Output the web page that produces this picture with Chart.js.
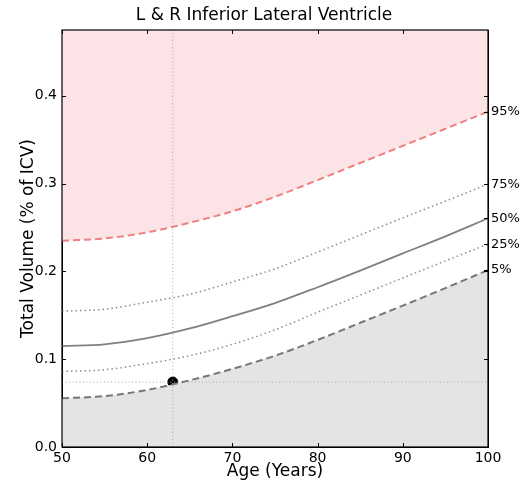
<!DOCTYPE html>
<html>
<head>
<meta charset="utf-8">
<script src="https://cdn.jsdelivr.net/npm/chart.js@4/dist/chart.umd.min.js"></script>
<style>
  html, body { margin: 0; padding: 0; background: #fff; }
  #wrap { width: 528px; height: 482px; }
</style>
</head>
<body>
<div id="wrap"><canvas id="myChart" width="528" height="482"></canvas></div>
<script>
// data
var ages = [50, 55, 60, 65, 70, 75, 80, 85, 90, 95, 100];
var p5  = [0.0555, 0.058, 0.065, 0.076, 0.089, 0.104, 0.122, 0.1415, 0.161, 0.181, 0.2015];
var p25 = [0.086, 0.088, 0.095, 0.104, 0.117, 0.1335, 0.1535, 0.173, 0.1925, 0.212, 0.231];
var p50 = [0.115, 0.117, 0.124, 0.135, 0.149, 0.164, 0.182, 0.201, 0.2205, 0.240, 0.2605];
var p75 = [0.1547, 0.157, 0.165, 0.174, 0.188, 0.203, 0.222, 0.2415, 0.261, 0.280, 0.2994];
var p95 = [0.235, 0.2375, 0.2445, 0.2555, 0.2685, 0.285, 0.304, 0.3235, 0.343, 0.3625, 0.382];
var pctLabels = ['95%', '75%', '50%', '25%', '5%'];
var yTicks = [0.0, 0.1, 0.2, 0.3, 0.4];
var xTicks = [50, 60, 70, 80, 90, 100];
var subjectAge = 63;
var subjectVol = 0.074;
var yMax = 0.475;

function pts(arr){
    return ages.map(function(a, i){ return {x: a, y: arr[i]}; });
}

var endValues = [p95, p75, p50, p25, p5].map(function(a){ return a[a.length - 1]; });

//inward ticks + top border, matplotlib style
var frame = {
    id: 'frame',
    afterDatasetsDraw: function(chart){
        var ctx = chart.ctx, a = chart.chartArea;
        var xs = chart.scales.x, ys = chart.scales.y;
        ctx.save();
        ctx.strokeStyle = '#000';
        ctx.lineWidth = 1;
        ctx.beginPath();
        xTicks.forEach(function(v){
            var px = Math.round(xs.getPixelForValue(v)) + 0.5;
            ctx.moveTo(px, a.bottom); ctx.lineTo(px, a.bottom - 4);
            ctx.moveTo(px, a.top); ctx.lineTo(px, a.top + 4);
        });
        yTicks.forEach(function(v){
            var py = Math.round(ys.getPixelForValue(v)) + 0.5;
            ctx.moveTo(a.left, py); ctx.lineTo(a.left + 4, py);
            ctx.moveTo(a.right, py); ctx.lineTo(a.right - 4, py);
        });
        endValues.forEach(function(v){
            var py = Math.round(ys.getPixelForValue(v)) + 0.5;
            ctx.moveTo(a.right, py); ctx.lineTo(a.right - 4, py);
        });
        ctx.stroke();
        ctx.lineWidth = 1.2;
        ctx.strokeRect(a.left, a.top, a.right - a.left, a.bottom - a.top);
        ctx.restore();
    }
};

Chart.defaults.font.family = 'DejaVu Sans';
Chart.defaults.color = '#000';

var main = {};
main.ctx = document.getElementById('myChart');
main.chart = new Chart(main.ctx, {
    type: 'line',
    data: {
        datasets: [
            {data: [{x: subjectAge, y: 0}, {x: subjectAge, y: yMax}], borderColor: '#a8a8a8', borderWidth: 1, borderDash: [1, 2.5], pointRadius: 0, fill: false},
            {data: [{x: 50, y: subjectVol}, {x: 100, y: subjectVol}], borderColor: '#a8a8a8', borderWidth: 1, borderDash: [1, 2.5], pointRadius: 0, fill: false},
            {label: '95%', data: pts(p95), borderColor: '#f08080', borderWidth: 2, borderDash: [7, 4], pointRadius: 0, fill: 'end', backgroundColor: '#fce4e6', cubicInterpolationMode: 'monotone'},
            {label: '75%', data: pts(p75), borderColor: '#8c8c8c', borderWidth: 1.5, borderDash: [1.5, 3], pointRadius: 0, fill: false, cubicInterpolationMode: 'monotone'},
            {label: '50%', data: pts(p50), borderColor: '#808080', borderWidth: 1.8, pointRadius: 0, fill: false, cubicInterpolationMode: 'monotone'},
            {label: '25%', data: pts(p25), borderColor: '#8c8c8c', borderWidth: 1.5, borderDash: [1.5, 3], pointRadius: 0, fill: false, cubicInterpolationMode: 'monotone'},
            {label: '5%', data: pts(p5), borderColor: '#777777', borderWidth: 2, borderDash: [7, 4], pointRadius: 0, fill: 'origin', backgroundColor: '#e4e4e4', cubicInterpolationMode: 'monotone'},
            {type: 'scatter', data: [{x: subjectAge, y: subjectVol}], backgroundColor: '#000', borderColor: '#000', pointRadius: 5}
        ]
    },
    options: {
        responsive: false,
        animation: false,
        events: [],
        layout: {padding: 0},
        plugins: {
            legend: {display: false},
            tooltip: {enabled: false},
            title: {display: true, text: 'L & R Inferior Lateral Ventricle', font: {size: 17, weight: 'normal'}, color: '#000', padding: {top: 5, bottom: 4.6}}
        },
        scales: {
            x: {
                type: 'linear', min: 50, max: 100,
                afterBuildTicks: function(s){ s.ticks = xTicks.map(function(v){ return {value: v}; }); },
                ticks: {font: {size: 14}, padding: 3, maxRotation: 0},
                grid: {display: false, drawTicks: false},
                border: {color: '#000'},
                title: {display: true, text: 'Age (Years)', font: {size: 17}, padding: {top: 0, bottom: 0}},
                afterFit: function(s){ s.height = 35; }
            },
            y: {
                min: 0, max: yMax,
                afterBuildTicks: function(s){ s.ticks = yTicks.map(function(v){ return {value: v}; }); },
                ticks: {font: {size: 14}, padding: 5, callback: function(v){ return v.toFixed(1); }},
                grid: {display: false, drawTicks: false},
                border: {color: '#000'},
                title: {display: true, text: 'Total Volume (% of ICV)', font: {size: 17}, padding: {top: 18, bottom: 0}},
                afterFit: function(s){ s.width = 62; }
            },
            y2: {
                position: 'right', min: 0, max: yMax,
                afterBuildTicks: function(s){ s.ticks = endValues.map(function(v){ return {value: v}; }); },
                ticks: {font: {size: 13}, padding: 3, callback: function(v, i){ return pctLabels[i]; }},
                grid: {display: false, drawTicks: false},
                border: {color: '#000'},
                afterFit: function(s){ s.width = 40; }
            }
        }
    },
    plugins: [frame]
});
</script>
</body>
</html>
